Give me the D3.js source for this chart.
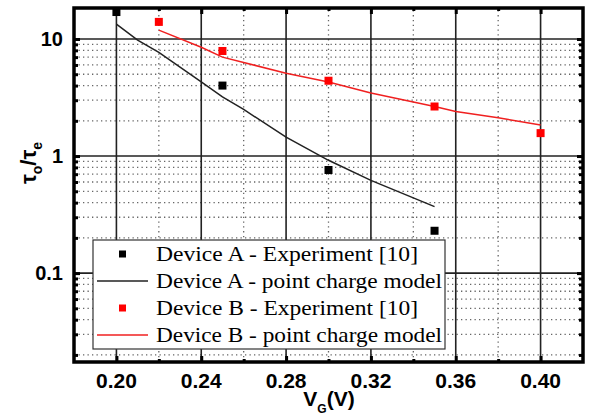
<!DOCTYPE html>
<html>
<head>
<meta charset="utf-8">
<script src="https://cdn.jsdelivr.net/npm/d3@7"></script>
<style>
  body { margin: 0; background: #fff; }
  svg text { font-family: Arial, "Liberation Sans", sans-serif; }
</style>
</head>
<body>
<svg id="chart" width="589" height="420"></svg>
<script>
// ---- data ----
const xTicks = [0.20, 0.24, 0.28, 0.32, 0.36, 0.40];
const xMinor = [0.22, 0.26, 0.30, 0.34, 0.38];
const yTicks = [0.1, 1, 10];

// Device A - experiment (black squares)
const aExpX = [0.20, 0.25, 0.30, 0.35];
const aExpY = [17, 4.0, 0.76, 0.23];
// Device A - point charge model (black line)
const aModX = [0.20, 0.21, 0.22, 0.24, 0.25, 0.26, 0.28, 0.30, 0.32, 0.35];
const aModY = [13.4, 9.8, 7.7, 4.3, 3.2, 2.5, 1.45, 0.92, 0.62, 0.37];
// Device B - experiment (red squares)
const bExpX = [0.22, 0.25, 0.30, 0.35, 0.40];
const bExpY = [14, 7.9, 4.4, 2.65, 1.57];
// Device B - point charge model (red line)
const bModX = [0.22, 0.24, 0.25, 0.28, 0.30, 0.32, 0.35, 0.36, 0.38, 0.40];
const bModY = [11.9, 8.5, 7.0, 5.1, 4.3, 3.45, 2.65, 2.4, 2.12, 1.84];

const legendLabels = [
  'Device A - Experiment [10]',
  'Device A - point charge model',
  'Device B - Experiment [10]',
  'Device B - point charge model'
];

// ---- layout ----
const width = 589, height = 420;
const margin = { top: 8, right: 6, bottom: 58, left: 74 };
const svg = d3.select('#chart');

const x = d3.scaleLinear().domain([0.18, 0.42]).range([margin.left, width - margin.right]);
const y = d3.scaleLog().domain([0.0174, 18.4]).range([height - margin.bottom, margin.top]);

const x0 = margin.left, x1 = width - margin.right;
const y0 = height - margin.bottom, y1 = margin.top;

// minor log positions
const yMinor = [];
[0.01, 0.1, 1, 10].forEach(d => {
  for (let k = 2; k <= 9; k++) {
    const v = k * d;
    if (v > y.domain()[0] && v < y.domain()[1]) yMinor.push(v);
  }
});

// ---- grid ----
const grid = svg.append('g');
grid.selectAll('.hminor').data(yMinor).enter().append('line')
  .attr('x1', x0).attr('x2', x1)
  .attr('y1', d => y(d)).attr('y2', d => y(d))
  .attr('stroke', '#666').attr('stroke-width', 1.3)
  .attr('stroke-dasharray', '1.3,3.2');
grid.selectAll('.vminor').data(xMinor).enter().append('line')
  .attr('y1', y0).attr('y2', y1)
  .attr('x1', d => x(d)).attr('x2', d => x(d))
  .attr('stroke', '#666').attr('stroke-width', 1.3)
  .attr('stroke-dasharray', '1.3,3.5');
grid.selectAll('.hmajor').data(yTicks).enter().append('line')
  .attr('x1', x0).attr('x2', x1)
  .attr('y1', d => y(d)).attr('y2', d => y(d))
  .attr('stroke', '#222').attr('stroke-width', 1.6);
grid.selectAll('.vmajor').data(xTicks).enter().append('line')
  .attr('y1', y0).attr('y2', y1)
  .attr('x1', d => x(d)).attr('x2', d => x(d))
  .attr('stroke', '#222').attr('stroke-width', 1.6);

// ---- series ----
const line = d3.line().x(d => x(d[0])).y(d => y(d[1]));
svg.append('path').datum(d3.zip(aModX, aModY))
  .attr('d', line).attr('fill', 'none').attr('stroke', '#222').attr('stroke-width', 1.5);
svg.append('path').datum(d3.zip(bModX, bModY))
  .attr('d', line).attr('fill', 'none').attr('stroke', '#f02020').attr('stroke-width', 1.5);

const sq = 8;
svg.selectAll('.aexp').data(d3.zip(aExpX, aExpY)).enter().append('rect')
  .attr('x', d => x(d[0]) - sq / 2).attr('y', d => y(d[1]) - sq / 2)
  .attr('width', sq).attr('height', sq).attr('fill', '#000');
svg.selectAll('.bexp').data(d3.zip(bExpX, bExpY)).enter().append('rect')
  .attr('x', d => x(d[0]) - sq / 2).attr('y', d => y(d[1]) - sq / 2)
  .attr('width', sq).attr('height', sq).attr('fill', '#ff0000');

// ---- frame and ticks ----
const axes = svg.append('g');
axes.append('g').attr('transform', `translate(0,${y0})`)
  .call(d3.axisTop(x).tickValues(xTicks).tickSize(6).tickFormat(''));
axes.append('g').attr('transform', `translate(0,${y0})`)
  .call(d3.axisTop(x).tickValues(xMinor).tickSize(3).tickFormat(''));
axes.append('g').attr('transform', `translate(0,${y1})`)
  .call(d3.axisBottom(x).tickValues(xTicks).tickSize(6).tickFormat(''));
axes.append('g').attr('transform', `translate(0,${y1})`)
  .call(d3.axisBottom(x).tickValues(xMinor).tickSize(3).tickFormat(''));
axes.append('g').attr('transform', `translate(${x0},0)`)
  .call(d3.axisRight(y).tickValues(yTicks).tickSize(6).tickFormat(''));
axes.append('g').attr('transform', `translate(${x0},0)`)
  .call(d3.axisRight(y).tickValues(yMinor).tickSize(4).tickFormat(''));
axes.append('g').attr('transform', `translate(${x1},0)`)
  .call(d3.axisLeft(y).tickValues(yTicks).tickSize(6).tickFormat(''));
axes.append('g').attr('transform', `translate(${x1},0)`)
  .call(d3.axisLeft(y).tickValues(yMinor).tickSize(4).tickFormat(''));
axes.selectAll('.domain').remove();
axes.selectAll('.tick line').attr('stroke', '#000').attr('stroke-width', 3);

svg.append('rect')
  .attr('x', x0).attr('y', y1).attr('width', x1 - x0).attr('height', y0 - y1)
  .attr('fill', 'none').attr('stroke', '#000').attr('stroke-width', 3.5);

// tick labels
svg.selectAll('.xlab').data(xTicks).enter().append('text')
  .attr('x', d => x(d)).attr('y', 388)
  .attr('text-anchor', 'middle')
  .attr('font-size', 21).attr('font-weight', 'bold')
  .text(d => d3.format('.2f')(d));
svg.selectAll('.ylab').data(yTicks).enter().append('text')
  .attr('x', 63).attr('y', d => y(d) + 7)
  .attr('text-anchor', 'end')
  .attr('font-size', 20).attr('font-weight', 'bold')
  .text(d => d >= 1 ? d3.format('d')(d) : d);

// axis titles
const xt = svg.append('text')
  .attr('x', 329).attr('y', 406)
  .attr('text-anchor', 'middle')
  .attr('font-size', 21).attr('font-weight', 'bold');
xt.append('tspan').text('V');
xt.append('tspan').attr('font-size', 12).attr('dy', 7).text('G');
xt.append('tspan').attr('dy', -7).text('(V)');

const yt = svg.append('text')
  .attr('transform', 'translate(36,163) rotate(-90)')
  .attr('text-anchor', 'middle')
  .attr('font-size', 22).attr('font-weight', 'bold');
yt.append('tspan').text('τ');
yt.append('tspan').attr('font-size', 14).attr('dy', 6).text('o');
yt.append('tspan').attr('dy', -6).text('/τ');
yt.append('tspan').attr('font-size', 14).attr('dy', 6).text('e');

// ---- legend ----
const lg = svg.append('g');
lg.append('rect')
  .attr('x', 93).attr('y', 240).attr('width', 352).attr('height', 109)
  .attr('fill', '#fff').attr('stroke', '#333').attr('stroke-width', 1.2);
const rowY = [254, 281, 308, 335];
const legendKind = ['sq', 'line', 'sq', 'line'];
const legendColor = ['#000', '#222', '#ff0000', '#f02020'];
const legendTextLen = [262, 286, 262, 286];
legendLabels.forEach((label, i) => {
  if (legendKind[i] === 'sq') {
    lg.append('rect').attr('x', 119).attr('y', rowY[i] - 3.5)
      .attr('width', 7).attr('height', 7).attr('fill', legendColor[i]);
  } else {
    lg.append('line').attr('x1', 97).attr('x2', 148)
      .attr('y1', rowY[i]).attr('y2', rowY[i])
      .attr('stroke', legendColor[i]).attr('stroke-width', 1.5);
  }
  lg.append('text').attr('x', 156).attr('y', rowY[i] + 7)
    .style('font-family', '"Liberation Serif", "Times New Roman", serif')
    .attr('font-size', 21)
    .attr('textLength', legendTextLen[i])
    .attr('lengthAdjust', 'spacingAndGlyphs')
    .text(label);
});
</script>
</body>
</html>
